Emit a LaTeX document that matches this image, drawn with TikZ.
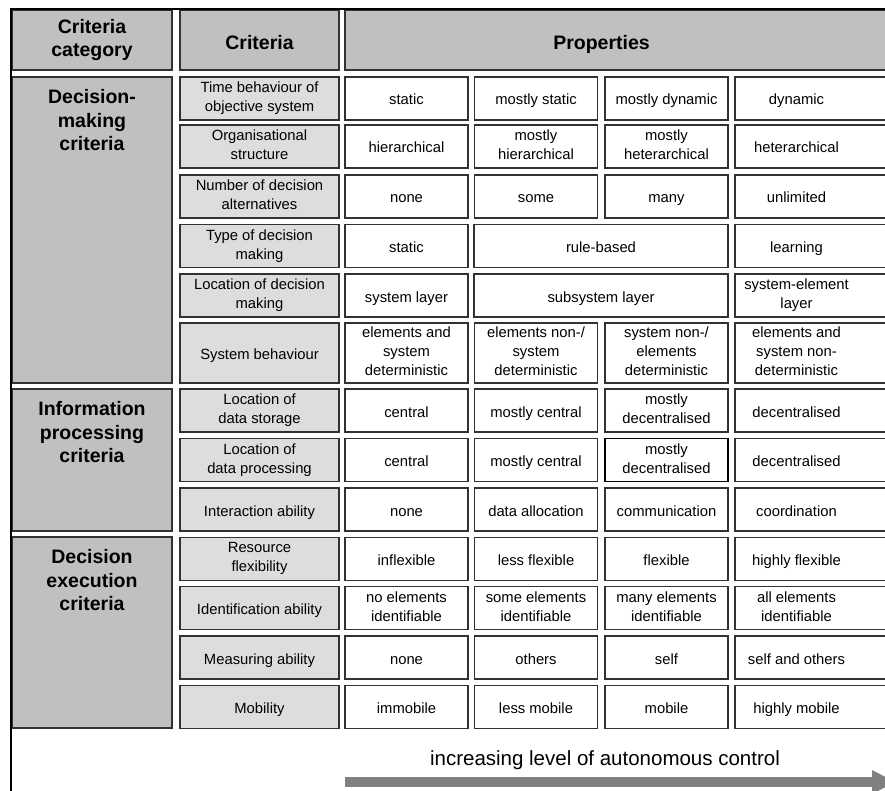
\documentclass[tikz,border=0pt]{standalone}
\usepackage{fontspec}
\setmainfont{Liberation Sans}
\usetikzlibrary{arrows.meta}
\newcommand{\cellfnt}{\fontsize{14.8pt}{19pt}\selectfont}
\newcommand{\headfnt}{\fontsize{19.5pt}{23.5pt}\selectfont\bfseries}
\newcommand{\arrowfnt}{\fontsize{20.5pt}{24pt}\selectfont}
\newcommand{\cellstrut}{\rule[-3.5pt]{0pt}{20pt}}
\newcommand{\headstrut}{\rule[-4pt]{0pt}{27pt}}
\definecolor{headgray}{RGB}{192,192,192}
\definecolor{critgray}{RGB}{221,221,221}
\definecolor{linegray}{RGB}{50,50,50}
\definecolor{arrowgray}{RGB}{128,128,128}

\begin{document}
\begin{tikzpicture}[x=1pt,y=-1pt,
	cell/.style={draw=linegray,line width=1.25pt,fill=white,align=center,font=\cellfnt,minimum height=43pt,inner xsep=2pt,inner ysep=0pt,
		execute at begin node=\cellstrut,execute at end node=\cellstrut},
	head/.style={cell,fill=headgray,font=\headfnt,minimum height=60pt,
		execute at begin node=\headstrut,execute at end node=\headstrut},
	crit/.style={cell,fill=critgray,minimum width=159pt},
	prop/.style={cell,minimum width=123pt},
	wideprop/.style={cell,minimum width=254pt},
	lastprop/.style={cell,minimum width=170pt},
	lastlabel/.style={align=center,font=\cellfnt,xshift=-23.5pt,inner sep=0pt,
		execute at begin node=\cellstrut,execute at end node=\cellstrut},
	category/.style={cell,fill=headgray,minimum width=160pt},
	catlabel/.style={anchor=north,align=center,font=\headfnt,yshift=-13pt,inner sep=0pt},
	hl/.style={draw=black,line width=1.6pt},
]
	\useasboundingbox (0,0) rectangle (885,791);
	\clip (0,0) rectangle (885,791);

	\node[head,minimum width=160pt] (hcat) at (92,40) {Criteria\\category};
	\node[head,minimum width=159pt] (hcrit) at (259.5,40) {Criteria};
	\node[head,minimum width=560pt,label={[lastlabel,font=\headfnt,execute at begin node=\headstrut,execute at end node=\headstrut]center:Properties}] (hprop) at (625,40) {};

	\node[category,minimum height=306pt,label={[catlabel]north:Decision-\\making\\criteria}] (catdm) at (92,230) {};
	\node[category,minimum height=142pt,label={[catlabel]north:Information\\processing\\criteria}] (catip) at (92,460) {};
	\node[category,minimum height=191pt,label={[catlabel]north:Decision\\execution\\criteria}] (catde) at (92,632.5) {};

	\node[crit] (time) at (259.5,98.5) {Time behaviour of\\objective system};
	\node[prop] (timeA) at (406.5,98.5) {static};
	\node[prop] (timeB) at (536,98.5) {mostly static};
	\node[prop] (timeC) at (666.5,98.5) {mostly dynamic};
	\node[lastprop,label={[lastlabel]center:dynamic}] (timeD) at (820,98.5) {};

	\node[crit] (org) at (259.5,146.5) {Organisational\\structure};
	\node[prop] (orgA) at (406.5,146.5) {hierarchical};
	\node[prop] (orgB) at (536,146.5) {mostly\\hierarchical};
	\node[prop] (orgC) at (666.5,146.5) {mostly\\heterarchical};
	\node[lastprop,label={[lastlabel]center:heterarchical}] (orgD) at (820,146.5) {};

	\node[crit] (alt) at (259.5,196.5) {Number of decision\\alternatives};
	\node[prop] (altA) at (406.5,196.5) {none};
	\node[prop] (altB) at (536,196.5) {some};
	\node[prop] (altC) at (666.5,196.5) {many};
	\node[lastprop,label={[lastlabel]center:unlimited}] (altD) at (820,196.5) {};

	\node[crit] (type) at (259.5,246) {Type of decision\\making};
	\node[prop] (typeA) at (406.5,246) {static};
	\node[wideprop] (typeB) at (601,246) {rule-based};
	\node[lastprop,label={[lastlabel]center:learning}] (typeD) at (820,246) {};

	\node[crit] (loc) at (259.5,295.5) {Location of decision\\making};
	\node[prop] (locA) at (406.5,295.5) {system layer};
	\node[wideprop] (locB) at (601,295.5) {subsystem layer};
	\node[lastprop,label={[lastlabel]center:system-element\\layer}] (locD) at (820,295.5) {};

	\node[crit,minimum height=60pt] (beh) at (259.5,353) {System behaviour};
	\node[prop,minimum height=60pt] (behA) at (406.5,353) {elements and\\system\\deterministic};
	\node[prop,minimum height=60pt] (behB) at (536,353) {elements non-/\\system\\deterministic};
	\node[prop,minimum height=60pt] (behC) at (666.5,353) {system non-/\\elements\\deterministic};
	\node[lastprop,minimum height=60pt,label={[lastlabel]center:elements and\\system non-\\deterministic}] (behD) at (820,353) {};

	\node[crit] (stor) at (259.5,410.5) {Location of\\data storage};
	\node[prop] (storA) at (406.5,410.5) {central};
	\node[prop] (storB) at (536,410.5) {mostly central};
	\node[prop] (storC) at (666.5,410.5) {mostly\\decentralised};
	\node[lastprop,label={[lastlabel]center:decentralised}] (storD) at (820,410.5) {};

	\node[crit] (proc) at (259.5,460) {Location of\\data processing};
	\node[prop] (procA) at (406.5,460) {central};
	\node[prop] (procB) at (536,460) {mostly central};
	\node[prop,hl] (procC) at (666.5,460) {mostly\\decentralised};
	\node[lastprop,label={[lastlabel]center:decentralised}] (procD) at (820,460) {};

	\node[crit] (inter) at (259.5,509.5) {Interaction ability};
	\node[prop] (interA) at (406.5,509.5) {none};
	\node[prop] (interB) at (536,509.5) {data allocation};
	\node[prop] (interC) at (666.5,509.5) {communication};
	\node[lastprop,label={[lastlabel]center:coordination}] (interD) at (820,509.5) {};

	\node[crit] (res) at (259.5,559) {Resource\\flexibility};
	\node[prop] (resA) at (406.5,559) {inflexible};
	\node[prop] (resB) at (536,559) {less flexible};
	\node[prop] (resC) at (666.5,559) {flexible};
	\node[lastprop,label={[lastlabel]center:highly flexible}] (resD) at (820,559) {};

	\node[crit] (ident) at (259.5,608) {Identification ability};
	\node[prop] (identA) at (406.5,608) {no elements\\identifiable};
	\node[prop] (identB) at (536,608) {some elements\\identifiable};
	\node[prop] (identC) at (666.5,608) {many elements\\identifiable};
	\node[lastprop,label={[lastlabel]center:all elements\\identifiable}] (identD) at (820,608) {};

	\node[crit] (meas) at (259.5,657.5) {Measuring ability};
	\node[prop] (measA) at (406.5,657.5) {none};
	\node[prop] (measB) at (536,657.5) {others};
	\node[prop] (measC) at (666.5,657.5) {self};
	\node[lastprop,label={[lastlabel]center:self and others}] (measD) at (820,657.5) {};

	\node[crit] (mob) at (259.5,707) {Mobility};
	\node[prop] (mobA) at (406.5,707) {immobile};
	\node[prop] (mobB) at (536,707) {less mobile};
	\node[prop] (mobC) at (666.5,707) {mobile};
	\node[lastprop,label={[lastlabel]center:highly mobile}] (mobD) at (820,707) {};

	\draw[line width=2.5pt] (895,9) -- (11,9) -- (11,800);

	\node[font=\arrowfnt] (autolabel) at (605,760) {increasing level of autonomous control};
	\coordinate (arrowtail) at (345,782);
	\coordinate (arrowtip) at (896,782);
	\draw[arrowgray,line width=10pt,-{Triangle[length=24pt,width=22pt]}] (arrowtail) -- (arrowtip);
\end{tikzpicture}
\end{document}
